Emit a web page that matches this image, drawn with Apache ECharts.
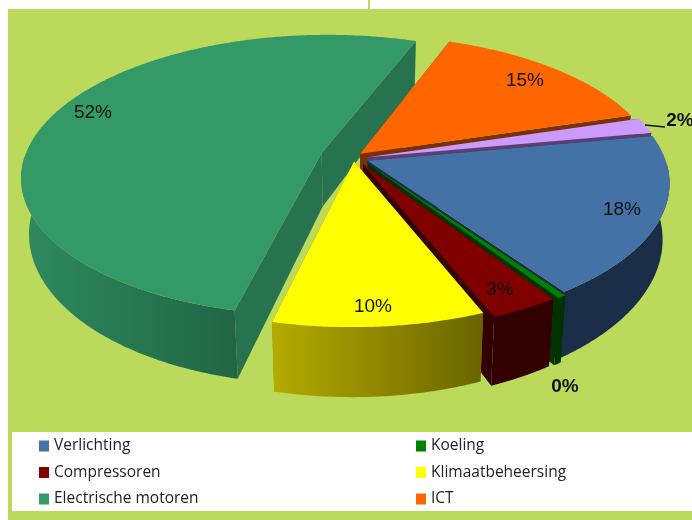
<!DOCTYPE html>
<html><head><meta charset="utf-8">
<style>html,body{margin:0;padding:0;background:#fff}#c{width:692px;height:520px}</style>
<script src="https://cdn.jsdelivr.net/npm/echarts@6/dist/echarts.min.js"></script>
</head><body><div id="c"></div>
<script>
// DATA
var categories = ['Verlichting','Koeling','Compressoren','Klimaatbeheersing','Electrische motoren','ICT',''];
var values = [18.2, 0.4, 3.2, 9.75, 51.95, 14.7, 1.8];
var valueLabels = ['18%','0%','3%','10%','52%','15%','2%'];

// LAYOUT / STYLE
var startAngle = 79.5;
var C = {x:366, y:160, a:298, b:139, k:0.158, h:54, shrink:0.977};
var offsets = [[0.005,0.005],[0.006,0.025],[-0.01,0.03],[-0.04,0.01],[-0.15,-0.05],[-0.02,-0.045],[0.005,-0.02]];
var topColors = ['#4471a6','#008000','#800000','#ffff00','#339966','#ff6600','#cc99ff'];
var sideColors = ['#1b2e49','#003300','#330000','#8f8800','#27734f','#7a3100','#5a3f70'];
var wallStops = [null,null,null,['#b5ab00','#696400'],['#2f8a60','#206545'],null,null];
var labelPos = [[622,210],[565,387],[500,290],[373,307],[93,113],[525,81],[680,121]];
var labelBold = [false,true,false,false,false,false,true];
var leader = [[645,125],[665,127]];
var drawOrder = [4,5,6,0,1,2,3];

var total = values.reduce(function(s,v){return s+v;},0);
var starts = [], acc = startAngle;
values.forEach(function(v){ starts.push(acc); acc += v/total*360; });

function proj(u,v,down){
  var s = 1/(1 - C.k*v);
  var x = C.a*u*s;
  return [C.x + x*(down ? C.shrink : 1), C.y + C.b*v*s + (down ? C.h*Math.pow(s,1.5) : 0)];
}
function rim(i,th){
  var r = th*Math.PI/180;
  return [Math.sin(r)+offsets[i][0], -Math.cos(r)+offsets[i][1]];
}
function poly(points, fill){
  return {type:'polygon', shape:{points:points}, style:{fill:fill}, silent:true};
}
function renderSlice(i){
  var a0 = starts[i], a1 = a0 + values[i]/total*360;
  var ap = offsets[i];
  var topPts = [proj(ap[0],ap[1])], arc = [];
  for (var t=a0; t<a1; t+=0.5){ arc.push(t); }
  arc.push(a1);
  arc.forEach(function(t){ var p=rim(i,t); topPts.push(proj(p[0],p[1])); });
  var children = [];
  [a0,a1].forEach(function(t){
    var p = rim(i,t);
    children.push(poly([proj(ap[0],ap[1]),proj(p[0],p[1]),proj(p[0],p[1],true),proj(ap[0],ap[1],true)], sideColors[i]));
  });
  var front = arc.filter(function(t){ return -Math.cos(t*Math.PI/180) > 0.02; });
  if (front.length>1){
    var up = front.map(function(t){var p=rim(i,t);return proj(p[0],p[1]);});
    var dn = front.map(function(t){var p=rim(i,t);return proj(p[0],p[1],true);}).reverse();
    var fill = sideColors[i];
    if (wallStops[i]) fill = new echarts.graphic.LinearGradient(0,0,1,0,[{offset:0,color:wallStops[i][0]},{offset:1,color:wallStops[i][1]}]);
    children.push(poly(up.concat(dn), fill));
  }
  children.push(poly(topPts, topColors[i]));
  if (i === 6) children.push({type:'line', silent:true, shape:{x1:leader[0][0],y1:leader[0][1],x2:leader[1][0],y2:leader[1][1]}, style:{stroke:'#111',lineWidth:1.3}});
  children.push({type:'text', silent:true, style:{x:labelPos[i][0], y:labelPos[i][1], text:valueLabels[i],
    fill:'#111', align:'center', verticalAlign:'middle',
    font:(labelBold[i]?'bold ':'')+'19px "Liberation Sans", Arial, sans-serif'}});
  return {type:'group', children:children};
}

var series = categories.map(function(name,i){
  return {type:'custom', name:name, coordinateSystem:'none', z:2+drawOrder.indexOf(i),
    itemStyle:{color:topColors[i]}, data:[[values[i]]],
    renderItem:function(){ return renderSlice(i); }};
});

var chart = echarts.init(document.getElementById('c'),null,{renderer:'canvas'});
var legendBase = {orient:'vertical', itemWidth:10, itemHeight:11, itemGap:10.5, icon:'rect', selectedMode:false, z:10,
  textStyle:{fontFamily:'Open Sans', fontSize:15.5, color:'#222'}};
chart.setOption({
  animation:false,
  backgroundColor:'#fff',
  graphic:[
    {type:'rect', z:0, silent:true, shape:{x:8,y:9,width:684,height:511}, style:{fill:'#bbd95b'}},
    {type:'rect', z:0, silent:true, shape:{x:12,y:432,width:680,height:79}, style:{fill:'#fff'}},
    {type:'rect', z:0, silent:true, shape:{x:368,y:0,width:2,height:9}, style:{fill:'#bbd95b'}}
  ],
  legend:[
    Object.assign({left:34, top:433, data:[categories[0],categories[2],categories[4]]}, legendBase),
    Object.assign({left:411, top:433, data:[categories[1],categories[3],categories[5]]}, legendBase)
  ],
  series:series
});
</script></body></html>
